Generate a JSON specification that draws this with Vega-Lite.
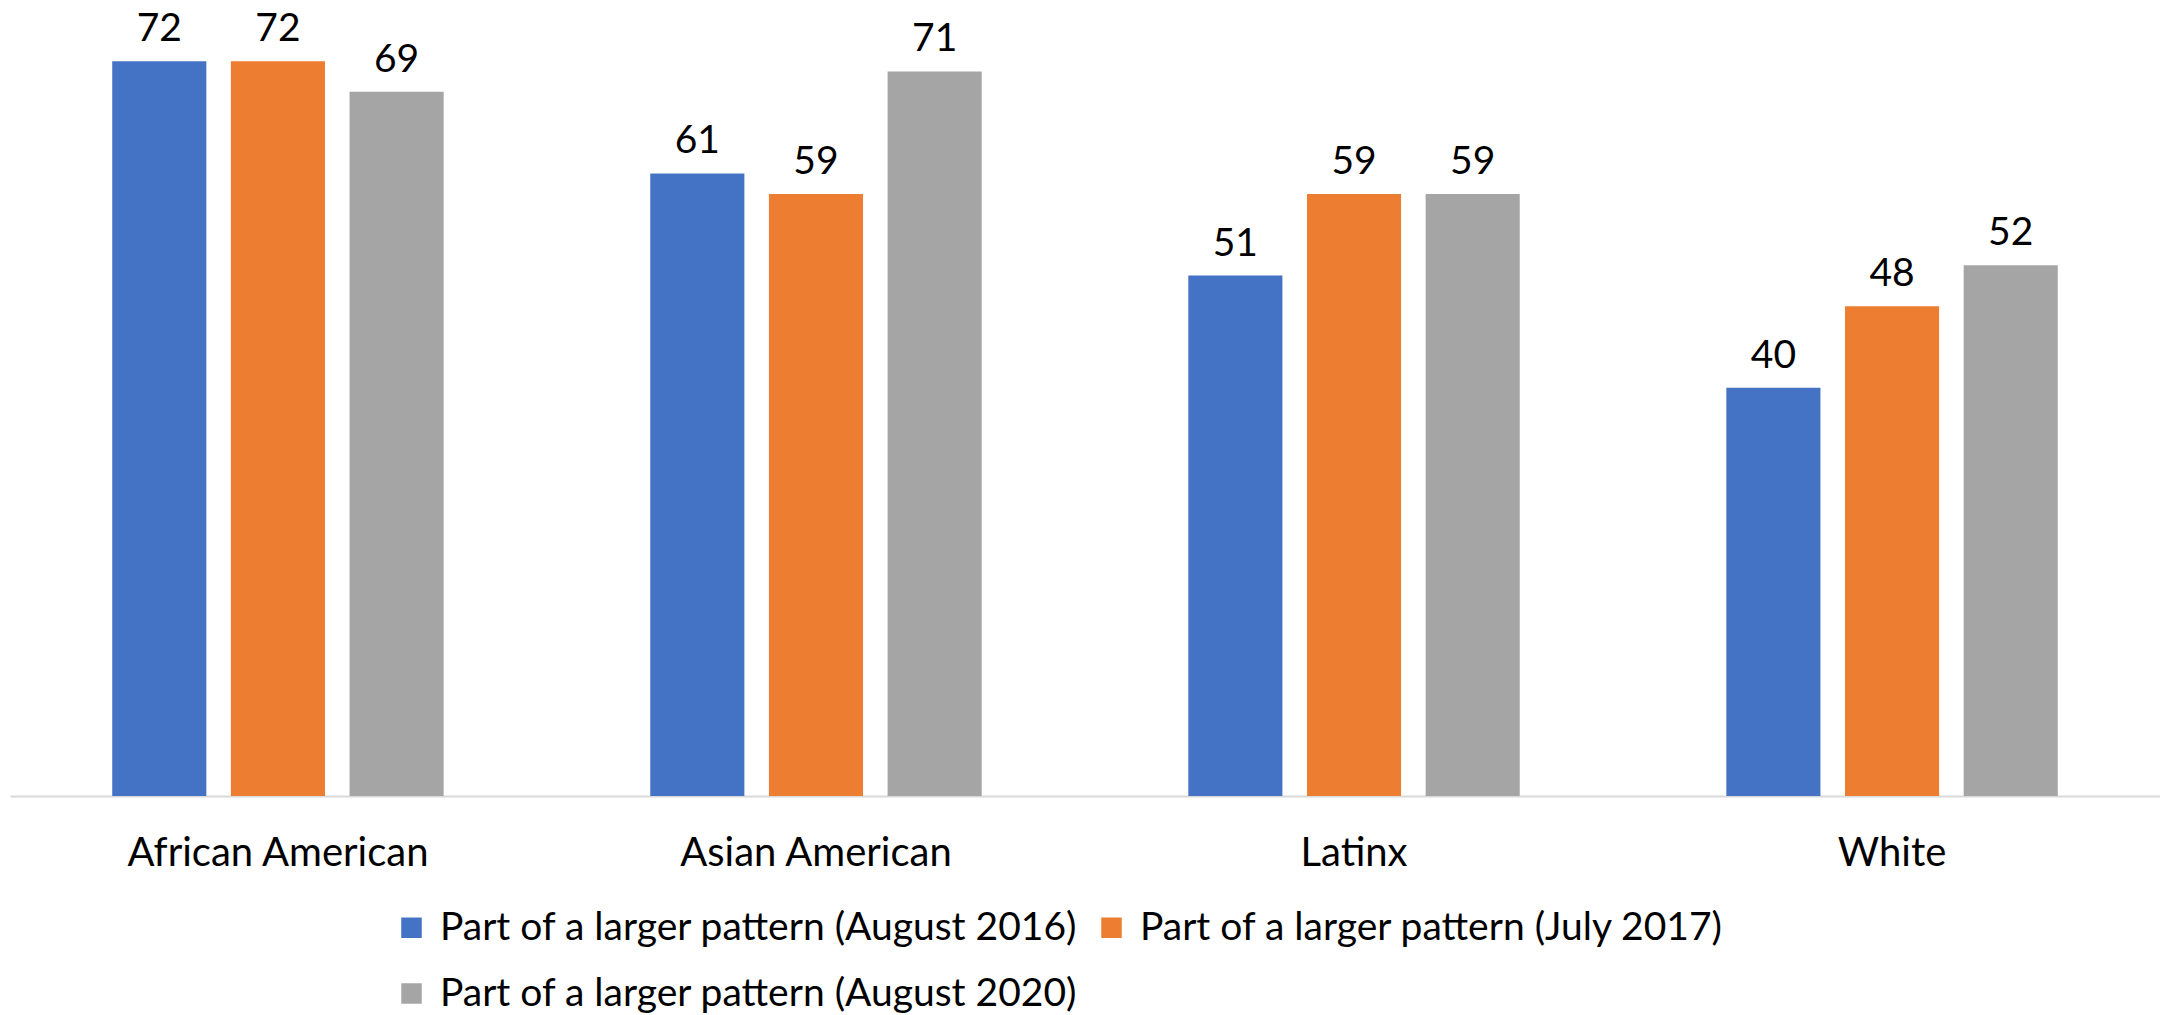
{
  "$schema": "https://vega.github.io/schema/vega-lite/v6.json",
  "width": 2150,
  "height": 796,
  "padding": {"left": 10, "top": 0, "right": 0, "bottom": 0},
  "autosize": {"type": "pad"},
  "config": {"view": {"stroke": null}, "font": "Lato"},
  "data": {
    "values": [
      {"group": "African American", "series": "Part of a larger pattern (August 2016)", "value": 72},
      {"group": "African American", "series": "Part of a larger pattern (July 2017)", "value": 72},
      {"group": "African American", "series": "Part of a larger pattern (August 2020)", "value": 69},
      {"group": "Asian American", "series": "Part of a larger pattern (August 2016)", "value": 61},
      {"group": "Asian American", "series": "Part of a larger pattern (July 2017)", "value": 59},
      {"group": "Asian American", "series": "Part of a larger pattern (August 2020)", "value": 71},
      {"group": "Latinx", "series": "Part of a larger pattern (August 2016)", "value": 51},
      {"group": "Latinx", "series": "Part of a larger pattern (July 2017)", "value": 59},
      {"group": "Latinx", "series": "Part of a larger pattern (August 2020)", "value": 59},
      {"group": "White", "series": "Part of a larger pattern (August 2016)", "value": 40},
      {"group": "White", "series": "Part of a larger pattern (July 2017)", "value": 48},
      {"group": "White", "series": "Part of a larger pattern (August 2020)", "value": 52}
    ]
  },
  "encoding": {
    "x": {
      "field": "group",
      "type": "nominal",
      "sort": ["African American", "Asian American", "Latinx", "White"],
      "scale": {"paddingInner": 0.384, "paddingOuter": 0.19},
      "axis": {
        "title": null,
        "labelAngle": 0,
        "ticks": false,
        "domainColor": "#d9d9d9",
        "domainWidth": 2,
        "labelFontSize": 40,
        "labelFont": "Lato",
        "labelColor": "#000000",
        "labelPadding": 37,
        "labelLimit": 0
      }
    },
    "xOffset": {
      "field": "series",
      "type": "nominal",
      "sort": ["Part of a larger pattern (August 2016)", "Part of a larger pattern (July 2017)", "Part of a larger pattern (August 2020)"],
      "scale": {"paddingInner": 0.207, "paddingOuter": 0}
    },
    "y": {
      "field": "value",
      "type": "quantitative",
      "scale": {"domain": [0, 78]},
      "axis": null
    }
  },
  "layer": [
    {
      "mark": {"type": "bar"},
      "encoding": {
        "color": {
          "field": "series",
          "type": "nominal",
          "sort": ["Part of a larger pattern (August 2016)", "Part of a larger pattern (July 2017)", "Part of a larger pattern (August 2020)"],
          "scale": {
            "domain": ["Part of a larger pattern (August 2016)", "Part of a larger pattern (July 2017)", "Part of a larger pattern (August 2020)"],
            "range": ["#4472C4", "#ED7D31", "#A5A5A5"]
          },
          "legend": {
            "orient": "none",
            "legendX": 382,
            "legendY": 908,
            "direction": "horizontal",
            "columns": 2,
            "title": null,
            "symbolType": "square",
            "symbolSize": 420,
            "symbolStrokeWidth": 0,
            "labelFontSize": 39,
            "labelFont": "Lato",
            "labelColor": "#000000",
            "labelLimit": 0,
            "labelOffset": 9,
            "columnPadding": 13,
            "rowPadding": 26
          }
        }
      }
    },
    {
      "mark": {"type": "text", "dy": -20, "baseline": "alphabetic", "fontSize": 39, "font": "Lato", "color": "#000000"},
      "encoding": {"text": {"field": "value", "type": "quantitative"}}
    }
  ]
}
